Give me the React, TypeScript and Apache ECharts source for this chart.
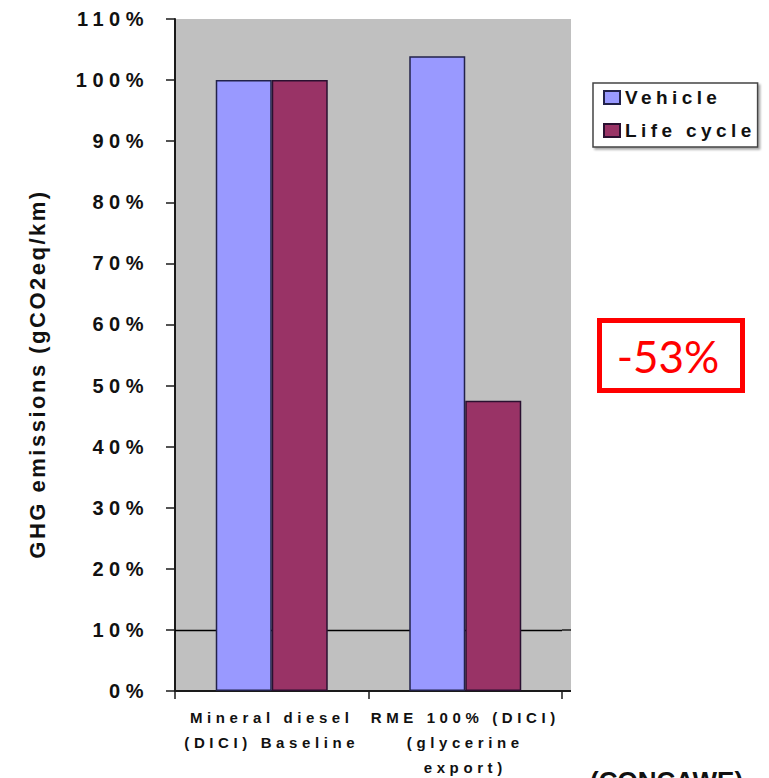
import React, { useEffect, useRef } from "react";
import * as echarts from "echarts";

// Chart data
const categories = ["Mineral diesel\n(DICI) Baseline", "RME 100% (DICI)\n(glycerine\nexport)"];
const seriesNames = ["Vehicle", "Life cycle"];
const vehicle = [100, 103.9];
const lifeCycle = [100, 47.5];
const yMin = 0;
const yMax = 110;
const yStep = 10;
const referenceLevel = 10;
const axisTitle = "GHG emissions (gCO2eq/km)";
const reductionLabel = "-53%";
const sourceLabel = "(CONCAWE)";

const FONT = "'Liberation Sans', Arial, Helvetica, sans-serif";

// Spread out the letters of the bold chart texts (SVG letter-spacing)
function spaceLetters(root: HTMLElement) {
  root.querySelectorAll("text").forEach((node) => {
    const t = node as SVGTextElement;
    const s = (t.textContent || "").trim();
    let ls = 0;
    if (/^\d+%$/.test(s)) ls = 5.5;
    else if (s === axisTitle) ls = 2.5;
    else if (s === reductionLabel || s === sourceLabel) ls = 0;
    else if (s === seriesNames[0] || s === seriesNames[1]) ls = 4.4;
    else ls = 4.6;
    t.style.letterSpacing = ls ? `${ls}px` : "";
  });
}

export default function App() {
  const ref = useRef<HTMLDivElement>(null);

  useEffect(() => {
    const el = ref.current;
    if (!el) return;
    const chart = echarts.init(el, undefined, { renderer: "svg" });

    const gridLeft = 175;
    const gridRight = 562;
    const gridTop = 19;
    const gridBottom = 691;
    const plotEdge = 571;
    const axisColor = "#1a1a1a";

    const option: any = {
      animation: false,
      backgroundColor: "#ffffff",
      textStyle: { fontFamily: FONT },
      grid: {
        left: gridLeft,
        right: 769 - gridRight,
        top: gridTop,
        bottom: 778 - gridBottom,
        containLabel: false,
        outerBoundsMode: "none",
        show: true,
        backgroundColor: "#C0C0C0",
        borderWidth: 0,
      },
      legend: {
        orient: "vertical",
        left: 593,
        top: 83,
        data: seriesNames,
        icon: "rect",
        itemWidth: 16,
        itemHeight: 13,
        itemGap: 14,
        padding: [5, 46, 7, 10],
        backgroundColor: "#ffffff",
        borderColor: "#444444",
        borderWidth: 1.5,
        shadowColor: "rgba(0,0,0,0.35)",
        shadowBlur: 2,
        shadowOffsetX: 2,
        shadowOffsetY: 2,
        selectedMode: false,
        textStyle: {
          fontFamily: FONT,
          fontSize: 19,
          fontWeight: "bold",
          color: "#111111",
        },
      },
      xAxis: {
        type: "category",
        data: categories,
        axisLine: { show: true, lineStyle: { color: axisColor, width: 2 } },
        axisTick: { show: true, length: 8, lineStyle: { color: axisColor, width: 1.5 } },
        axisLabel: {
          interval: 0,
          margin: 14,
          fontFamily: FONT,
          fontSize: 15,
          fontWeight: "bold",
          color: "#111111",
          lineHeight: 25,
        },
        splitLine: { show: false },
      },
      yAxis: {
        type: "value",
        min: yMin,
        max: yMax,
        interval: yStep,
        axisLine: { show: true, lineStyle: { color: axisColor, width: 2 } },
        axisTick: { show: true, length: 9, lineStyle: { color: axisColor, width: 1.5 } },
        axisLabel: {
          formatter: "{value}%",
          margin: 26,
          fontFamily: FONT,
          fontSize: 20,
          fontWeight: "bold",
          color: "#111111",
        },
        splitLine: { show: false },
      },
      series: [
        {
          name: seriesNames[0],
          type: "bar",
          data: vehicle,
          barWidth: 56,
          barGap: "0%",
          z: 2,
          itemStyle: { color: "#9999FF", borderColor: "#22224a", borderWidth: 1.5 },
          markLine: {
            silent: true,
            z: 1,
            symbol: "none",
            label: { show: false },
            lineStyle: { color: "#000000", type: "solid", width: 1.3 },
            data: [{ yAxis: referenceLevel }],
          },
        },
        {
          name: seriesNames[1],
          type: "bar",
          data: lifeCycle,
          barWidth: 56,
          z: 2,
          itemStyle: { color: "#993366", borderColor: "#2a1030", borderWidth: 1.5 },
        },
      ],
      graphic: [
        // plot background continues a little past the last category boundary
        {
          type: "rect",
          z: -1,
          silent: true,
          shape: { x: gridRight, y: gridTop, width: plotEdge - gridRight, height: gridBottom - gridTop },
          style: { fill: "#C0C0C0" },
        },
        {
          type: "line",
          z: 1,
          silent: true,
          shape: { x1: gridRight, y1: gridBottom, x2: plotEdge, y2: gridBottom },
          style: { stroke: axisColor, lineWidth: 2 },
        },
        {
          type: "line",
          z: 1,
          silent: true,
          shape: { x1: gridRight, y1: 630, x2: plotEdge, y2: 630 },
          style: { stroke: "#000000", lineWidth: 1.3 },
        },
        // vertical axis title
        {
          type: "text",
          x: 37,
          y: 374,
          rotation: Math.PI / 2,
          silent: true,
          style: {
            text: axisTitle,
            fontFamily: FONT,
            fontSize: 22,
            fontWeight: "bold",
            fill: "#111111",
            align: "center",
            verticalAlign: "middle",
          },
        },
        // reduction callout
        {
          type: "rect",
          silent: true,
          shape: { x: 599.5, y: 320.5, width: 143, height: 70 },
          style: { fill: "#ffffff", stroke: "#FF0000", lineWidth: 5 },
        },
        {
          type: "text",
          x: 668,
          y: 356,
          silent: true,
          style: {
            text: reductionLabel,
            fontFamily: "Lato, 'Open Sans', sans-serif",
            fontSize: 44,
            fontWeight: "normal",
            fill: "#FF0000",
            align: "center",
            verticalAlign: "middle",
          },
        },
        // source note
        {
          type: "text",
          x: 590,
          y: 768,
          silent: true,
          style: {
            text: sourceLabel,
            fontFamily: FONT,
            fontSize: 26,
            fontWeight: "bold",
            fill: "#111111",
            align: "left",
            verticalAlign: "top",
          },
        },
      ],
    };

    const apply = () => spaceLetters(el);
    chart.on("finished", apply);
    chart.on("rendered", apply);
    chart.setOption(option);
    apply();
    const timer = window.setTimeout(apply, 50);

    return () => {
      window.clearTimeout(timer);
      chart.dispose();
    };
  }, []);

  return (
    <div
      ref={ref}
      style={{ position: "fixed", left: 0, top: 0, width: 769, height: 778, background: "#fff" }}
    />
  );
}
